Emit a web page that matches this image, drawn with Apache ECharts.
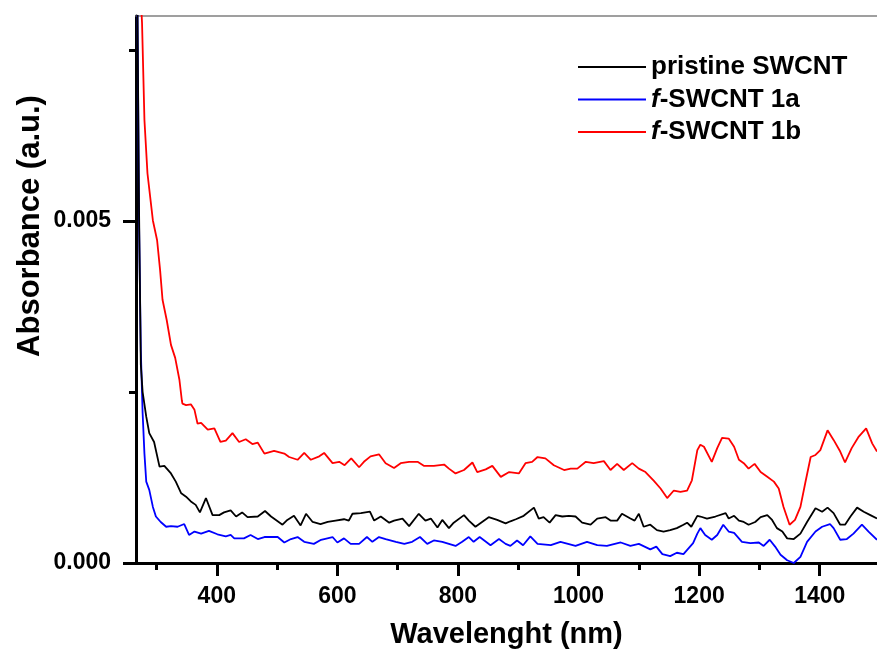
<!DOCTYPE html>
<html>
<head>
<meta charset="utf-8">
<script src="https://cdn.jsdelivr.net/npm/echarts@6/dist/echarts.min.js"></script>
<style>html,body{margin:0;padding:0;background:#fff}#c{width:877px;height:655px}</style>
</head>
<body>
<div id="c"></div>
<script>
// Wavelength (nm) and absorbance (in units of 1e-3 a.u.)
const pristineNm = [268,271,274,277,283,288,296,305,313,324,332,341,349,357,365,372,382,393,404,412,423,432,442,451,468,480,490,509,517,528,539,548,559,572,584,597,611,619,625,639,654,661,672,686,694,708,719,735,746,755,766,774,785,793,810,818,829,840,851,865,879,887,896,909,926,934,942,952,962,973,984,995,1006,1020,1031,1045,1053,1064,1072,1086,1093,1100,1108,1119,1130,1141,1152,1163,1174,1180,1187,1197,1202,1213,1227,1244,1249,1258,1266,1274,1282,1293,1302,1313,1321,1329,1338,1346,1357,1368,1379,1393,1404,1413,1423,1434,1442,1451,1462,1473,1484,1495];
const pristineAbs = [8.6,5.2,2.9,2.50,2.14,1.90,1.77,1.41,1.42,1.31,1.19,1.02,0.97,0.90,0.85,0.74,0.95,0.70,0.70,0.74,0.77,0.68,0.74,0.67,0.68,0.76,0.68,0.56,0.63,0.69,0.55,0.72,0.60,0.57,0.60,0.62,0.64,0.62,0.72,0.73,0.75,0.62,0.68,0.59,0.62,0.65,0.54,0.72,0.62,0.65,0.52,0.63,0.51,0.59,0.70,0.62,0.53,0.60,0.67,0.63,0.58,0.61,0.64,0.69,0.81,0.65,0.67,0.59,0.70,0.68,0.69,0.68,0.59,0.56,0.65,0.67,0.62,0.62,0.72,0.65,0.62,0.72,0.53,0.56,0.48,0.46,0.48,0.51,0.56,0.59,0.53,0.69,0.68,0.65,0.68,0.73,0.65,0.69,0.62,0.60,0.56,0.60,0.67,0.70,0.63,0.51,0.46,0.36,0.35,0.43,0.60,0.80,0.75,0.81,0.73,0.56,0.56,0.68,0.81,0.75,0.70,0.65];

const f1aNm = [268,271,274,277,280,283,288,294,299,307,316,324,335,346,354,363,374,387,401,415,423,429,445,456,468,479,501,512,523,534,545,561,573,592,600,611,622,636,649,658,669,680,697,711,724,737,749,760,774,796,807,818,826,836,854,868,879,887,898,908,920,932,954,970,995,1014,1031,1047,1070,1086,1100,1119,1129,1139,1152,1163,1174,1190,1197,1202,1210,1221,1230,1240,1249,1258,1271,1285,1299,1307,1317,1326,1335,1346,1357,1368,1379,1393,1404,1417,1423,1434,1445,1456,1470,1481,1495];
const f1aAbs = [8.6,5.0,3.1,2.19,1.60,1.19,1.07,0.82,0.68,0.60,0.53,0.54,0.53,0.57,0.41,0.46,0.43,0.47,0.42,0.39,0.41,0.36,0.36,0.41,0.35,0.38,0.38,0.30,0.35,0.38,0.31,0.28,0.34,0.38,0.30,0.36,0.28,0.28,0.38,0.31,0.38,0.35,0.31,0.28,0.31,0.38,0.28,0.33,0.31,0.25,0.31,0.38,0.31,0.38,0.26,0.35,0.28,0.25,0.33,0.26,0.39,0.28,0.26,0.31,0.25,0.31,0.26,0.25,0.30,0.25,0.28,0.20,0.24,0.13,0.10,0.15,0.13,0.29,0.43,0.51,0.41,0.34,0.41,0.56,0.46,0.44,0.31,0.29,0.30,0.25,0.34,0.24,0.12,0.04,0.00,0.09,0.31,0.46,0.53,0.57,0.51,0.34,0.35,0.43,0.56,0.46,0.34];

const f1bNm = [272,276,280,285,294,301,306,310,317,324,331,338,342,343,349,357,363,368,374,385,396,406,415,426,437,448,459,468,479,495,512,520,534,545,556,570,578,592,603,612,623,636,644,655,669,680,694,705,719,733,744,760,777,785,796,810,824,832,846,857,871,885,901,912,923,932,945,959,976,987,998,1012,1025,1042,1053,1064,1075,1089,1100,1111,1125,1136,1147,1158,1169,1180,1188,1197,1202,1208,1221,1230,1238,1249,1258,1266,1274,1282,1292,1302,1313,1324,1332,1340,1350,1359,1368,1376,1385,1393,1401,1413,1423,1434,1442,1453,1464,1477,1487,1495];
const f1bAbs = [8.6,7.9,6.48,5.70,5.01,4.72,4.28,3.85,3.55,3.19,3.00,2.68,2.38,2.33,2.31,2.32,2.24,2.04,2.05,1.95,1.97,1.77,1.79,1.90,1.77,1.81,1.74,1.76,1.60,1.64,1.60,1.55,1.51,1.61,1.51,1.56,1.61,1.46,1.48,1.43,1.53,1.40,1.48,1.56,1.59,1.46,1.39,1.46,1.48,1.48,1.42,1.42,1.44,1.38,1.31,1.36,1.47,1.33,1.37,1.42,1.26,1.33,1.31,1.46,1.48,1.55,1.53,1.43,1.36,1.38,1.38,1.48,1.46,1.49,1.36,1.45,1.36,1.46,1.38,1.33,1.20,1.09,0.95,1.06,1.04,1.06,1.21,1.65,1.73,1.70,1.48,1.68,1.83,1.82,1.70,1.51,1.46,1.38,1.45,1.33,1.26,1.19,1.09,0.82,0.56,0.63,0.82,1.17,1.55,1.58,1.65,1.94,1.80,1.63,1.47,1.68,1.84,1.97,1.75,1.63];

const seriesNames = ['pristine SWCNT', 'f-SWCNT 1a', 'f-SWCNT 1b'];
const seriesColors = ['#000000', '#0000ff', '#ff0000'];
const xMajorTicks = [400, 600, 800, 1000, 1200, 1400];
const xMinorTicks = [300, 500, 700, 900, 1100, 1300];
const yMajorTicks = [0, 0.005];
const yMinorTicks = [0.0025, 0.0075];

function pairs(xs, ys) { return xs.map((x, i) => [x, ys[i] * 1e-3]); }

const FONT = 'Liberation Sans, Arial, sans-serif';
const chart = echarts.init(document.getElementById('c'));
const xMin = 266, xMax = 1495;

const lineSeries = [
  pairs(pristineNm, pristineAbs),
  pairs(f1aNm, f1aAbs),
  pairs(f1bNm, f1bAbs)
].map((d, i) => ({
  name: seriesNames[i], type: 'line', data: d, showSymbol: false, symbol: 'none',
  clip: true, animation: false, z: 5 - i,
  lineStyle: { color: seriesColors[i], width: 1.8 },
  itemStyle: { color: seriesColors[i] }
}));

chart.setOption({
  animation: false,
  backgroundColor: '#fff',
  grid: { left: 136, right: 0, top: 16, bottom: 92, containLabel: false },
  legend: {
    orient: 'vertical', left: 573, top: 49, itemGap: 6.5,
    icon: 'rect', itemWidth: 68, itemHeight: 2,
    data: seriesNames,
    formatter: function (n) {
      return n.indexOf('f-') === 0 ? '{it|f}{b|' + n.slice(1) + '}' : '{b|' + n + '}';
    },
    textStyle: {
      fontFamily: FONT, fontWeight: 'bold', fontSize: 26, color: '#000', padding: [0, 0, 0, 0],
      rich: {
        it: { fontFamily: FONT, fontWeight: 'bold', fontStyle: 'italic', fontSize: 26, color: '#000' },
        b: { fontFamily: FONT, fontWeight: 'bold', fontSize: 26, color: '#000' }
      }
    }
  },
  xAxis: [
    {
      type: 'value', min: xMin, max: xMax, position: 'bottom',
      name: 'Wavelenght (nm)', nameLocation: 'middle', nameGap: 57,
      nameTextStyle: { fontFamily: FONT, fontWeight: 'bold', fontSize: 29, color: '#000' },
      axisLine: { show: true, lineStyle: { color: '#000', width: 3 } },
      axisTick: { show: true, customValues: xMajorTicks, length: 13, lineStyle: { color: '#000', width: 3 } },
      axisLabel: { show: true, customValues: xMajorTicks, margin: 22, fontFamily: FONT, fontWeight: 'bold', fontSize: 23, color: '#000',
        formatter: v => String(Math.round(v)) },
      splitLine: { show: false }
    },
    {
      type: 'value', min: xMin, max: xMax, position: 'bottom',
      axisLine: { show: false },
      axisTick: { show: true, customValues: xMinorTicks, length: 7, lineStyle: { color: '#000', width: 3 } },
      axisLabel: { show: false }, splitLine: { show: false }
    },
    {
      type: 'value', min: xMin, max: xMax, position: 'top',
      axisLine: { show: true, lineStyle: { color: '#808080', width: 1.5 } },
      axisTick: { show: false }, axisLabel: { show: false }, splitLine: { show: false }
    }
  ],
  yAxis: [
    {
      type: 'value', min: 0, max: 0.008, position: 'left',
      axisLine: { show: true, lineStyle: { color: '#000', width: 3 } },
      axisTick: { show: true, customValues: yMajorTicks, length: 13, lineStyle: { color: '#000', width: 3 } },
      axisLabel: { show: true, customValues: yMajorTicks, margin: 25, fontFamily: FONT, fontWeight: 'bold', fontSize: 23, color: '#000',
        formatter: v => v.toFixed(3) },
      splitLine: { show: false }
    },
    {
      type: 'value', min: 0, max: 0.008, position: 'left',
      axisLine: { show: false },
      axisTick: { show: true, customValues: yMinorTicks, length: 7, lineStyle: { color: '#000', width: 3 } },
      axisLabel: { show: false }, splitLine: { show: false }
    }
  ],
  graphic: [{
    type: 'text', x: 30, y: 226, rotation: Math.PI / 2,
    style: { text: 'Absorbance (a.u.)', fontFamily: FONT, fontWeight: 'bold', fontSize: 31, fill: '#000', align: 'center', verticalAlign: 'middle' }
  }],
  series: lineSeries
});
</script>
</body>
</html>
